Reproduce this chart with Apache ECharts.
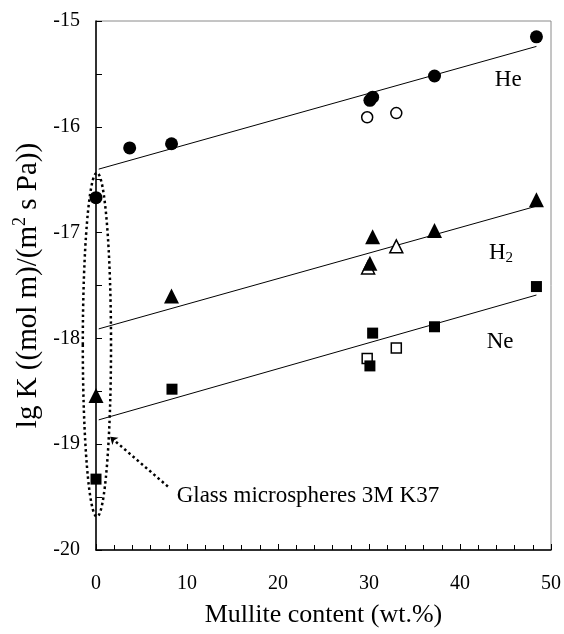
<!DOCTYPE html>
<html>
<head>
<meta charset="utf-8">
<script src="https://cdn.jsdelivr.net/npm/echarts@6/dist/echarts.min.js"></script>
<style>
  html, body { margin: 0; padding: 0; background: #fff; }
  #main { width: 564px; height: 634px; }
</style>
</head>
<body>
<div id="main"></div>
<script>
    // values
    const heFilled = [[0, -16.67], [3.7, -16.2], [8.3, -16.16], [30.1, -15.75], [30.4, -15.72], [37.2, -15.52], [48.4, -15.15]];
    const heOpen = [[29.8, -15.91], [33.0, -15.87]];
    const h2Filled = [[0, -18.54], [8.3, -17.6], [30.4, -17.04], [30.1, -17.29], [37.2, -16.98], [48.4, -16.69]];
    const h2Open = [[29.9, -17.33], [33.0, -17.13]];
    const neFilled = [[0, -19.33], [8.35, -18.48], [30.4, -17.95], [30.1, -18.26], [37.2, -17.89], [48.4, -17.51]];
    const neOpen = [[29.8, -18.19], [33.0, -18.09]];

    // fitted lines (start / end)
    const heFit = [[0.3, -16.40], [48.4, -15.24]];
    const h2Fit = [[0.3, -17.91], [48.4, -16.75]];
    const neFit = [[0.3, -18.77], [48.4, -17.59]];

    const gasLabels = [
        { text: 'He', at: [45.3, -15.56] },
        { text: '{a|H}{sub|2}', at: [44.5, -17.19] },
        { text: 'Ne', at: [44.4, -18.03] }
    ];
    const noteText = 'Glass microspheres 3M K37';
    const noteAt = [8.86, -19.49];
    const arrowFrom = [7.9, -19.40];
    const arrowTo = [1.55, -18.93];
    const ellipseBox = { cx: 0.1, cy: -18.06, rx: 1.55, ry: 1.625 };

    const serif = '"Liberation Serif", "Times New Roman", serif';

    function fnMarkers(data, symbol, size, open) {
        return {
            type: 'scatter',
            data: data,
            symbol: symbol,
            symbolSize: size,
            itemStyle: open
                ? { color: '#fff', borderColor: '#000', borderWidth: 1.5, opacity: 1 }
                : { color: '#000', opacity: 1 },
            silent: true
        };
    }

    function fnFitLine(data) {
        return {
            type: 'line',
            data: data,
            symbol: 'none',
            lineStyle: { color: '#000', width: 1 },
            silent: true,
            z: 1
        };
    }

    let chartDom = document.getElementById('main');
    let myChart = echarts.init(chartDom);

    let config = {
        animation: false,
        textStyle: { fontFamily: serif },
        grid: {
            left: 96, right: 11, top: 21, bottom: 84,
            show: true, borderColor: '#8a8a8a', borderWidth: 1
        },
        xAxis: {
            type: 'value',
            min: 0, max: 50, interval: 10,
            name: 'Mullite content (wt.%)',
            nameLocation: 'middle',
            nameGap: 52,
            nameTextStyle: { fontFamily: serif, fontSize: 26, color: '#000' },
            axisLine: { lineStyle: { color: '#000', width: 1.5 } },
            axisTick: { inside: true, length: 6, lineStyle: { color: '#000' } },
            minorTick: { show: true, splitNumber: 5, length: 5, lineStyle: { color: '#000' } },
            axisLabel: { fontFamily: serif, fontSize: 20, color: '#000', margin: 24 },
            splitLine: { show: false }
        },
        yAxis: {
            type: 'value',
            min: -20, max: -15, interval: 1,
            name: '{a|lg K ((mol m)/(m}{sup|2}{a| s Pa))}',
            nameLocation: 'middle',
            nameGap: 50,
            nameTextStyle: {
                color: '#000',
                rich: {
                    a: { fontFamily: serif, fontSize: 29, color: '#000', lineHeight: 34 },
                    sup: { fontFamily: serif, fontSize: 18, color: '#000', verticalAlign: 'top', lineHeight: 34, padding: [0, 0, 12, 0] }
                }
            },
            axisLine: { lineStyle: { color: '#000', width: 1.5 } },
            axisTick: { inside: true, length: 6, lineStyle: { color: '#000' } },
            minorTick: { show: true, splitNumber: 2, length: 6, lineStyle: { color: '#000' } },
            axisLabel: { fontFamily: serif, fontSize: 20, color: '#000', margin: 16 },
            splitLine: { show: false }
        },
        series: [
            fnFitLine(heFit),
            fnFitLine(h2Fit),
            fnFitLine(neFit),
            fnMarkers(heOpen, 'circle', 11, true),
            fnMarkers(h2Open, 'triangle', 13, true),
            fnMarkers(neOpen, 'rect', 10, true),
            fnMarkers(heFilled, 'circle', 13, false),
            fnMarkers(h2Filled, 'triangle', 15, false),
            fnMarkers(neFilled, 'rect', 11, false),
            {
                type: 'line',
                data: [],
                silent: true,
                markLine: {
                    silent: true,
                    symbolSize: 7,
                    label: { show: false },
                    lineStyle: { color: '#000', width: 2.5, type: [2.5, 3] },
                    data: [[
                        { coord: arrowFrom, symbol: 'none' },
                        { coord: arrowTo, symbol: 'arrow' }
                    ]]
                }
            }
        ]
    };

    myChart.setOption(config);

    // annotations placed through the axes' scales
    function px(p) { return myChart.convertToPixel({ gridIndex: 0 }, p); }

    let c = px([ellipseBox.cx, ellipseBox.cy]);
    let edge = px([ellipseBox.cx + ellipseBox.rx, ellipseBox.cy + ellipseBox.ry]);

    let graphics = [{
        type: 'ellipse',
        shape: { cx: c[0], cy: c[1], rx: Math.abs(edge[0] - c[0]), ry: Math.abs(edge[1] - c[1]) },
        style: { fill: null, stroke: '#000', lineWidth: 2.5, lineDash: [2.5, 3] },
        silent: true,
        z: 10
    }];

    gasLabels.forEach(function (g) {
        let p = px(g.at);
        graphics.push({
            type: 'text',
            x: p[0], y: p[1],
            style: {
                text: g.text,
                fontFamily: serif, fontSize: 23, fill: '#000',
                align: 'center', verticalAlign: 'middle',
                rich: {
                    a: { fontFamily: serif, fontSize: 23, fill: '#000', lineHeight: 26 },
                    sub: { fontFamily: serif, fontSize: 15, fill: '#000', verticalAlign: 'bottom', lineHeight: 26, padding: [10, 0, 0, 0] }
                }
            },
            silent: true
        });
    });

    let n = px(noteAt);
    graphics.push({
        type: 'text',
        x: n[0], y: n[1],
        style: {
            text: noteText,
            fontFamily: serif, fontSize: 23, fill: '#000',
            align: 'left', verticalAlign: 'middle'
        },
        silent: true
    });

    myChart.setOption({ graphic: graphics });

    window.addEventListener('resize', function () {
        myChart.resize();
    });
</script>
</body>
</html>
